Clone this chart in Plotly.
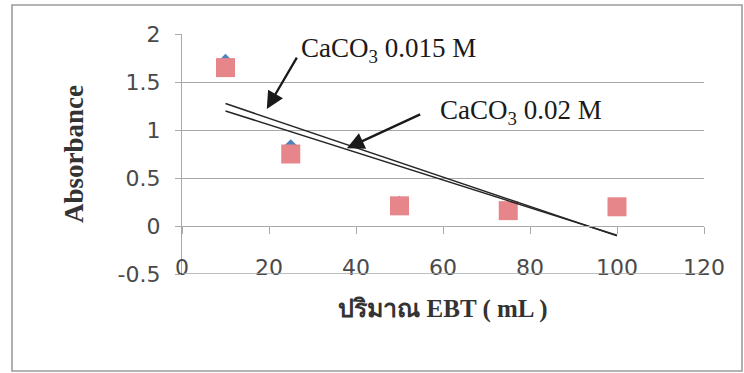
import numpy as np
import plotly.graph_objects as go

# EBT volume (mL) and measured absorbance for two CaCO3 concentrations
ebt_ml = [10, 25, 50, 75, 100]
abs_caco3_0015 = [1.72, 0.83, 0.24, 0.17, 0.20]
abs_caco3_002 = [1.65, 0.75, 0.21, 0.16, 0.20]

x_ticks = [0, 20, 40, 60, 80, 100, 120]
y_ticks = [-0.5, 0, 0.5, 1, 1.5, 2]
y_tick_text = ["-0.5", "0", "0.5", "1", "1.5", "2"]

label_0015 = "CaCO<sub>3</sub> 0.015 M"
label_002 = "CaCO<sub>3</sub> 0.02 M"
x_title = "ปริมาณ EBT ( mL )"
y_title = "Absorbance"

GRID = "#a9a9a9"
TICK_FONT = dict(family="DejaVu Sans", size=22, color="#4a4a4a")
SERIF = "Liberation Serif"

Y_RANGE = [-0.5, 2]


def linear_trend(x, y):
    """Least-squares straight line over the span of the data."""
    slope, intercept = np.polyfit(x, y, 1)
    xs = np.array([min(x), max(x)], dtype=float)
    return xs, slope * xs + intercept


fig = go.Figure()

fig.add_trace(go.Scatter(
    x=ebt_ml, y=abs_caco3_0015, mode="markers", name="0.015 M",
    marker=dict(symbol="diamond", size=11, color="#4F81BD"),
))
fig.add_trace(go.Scatter(
    x=ebt_ml, y=abs_caco3_002, mode="markers", name="0.02 M",
    marker=dict(symbol="square", size=19, color="#E6868A"),
))

# linear trendlines, drawn on the axis that sits at y = 0
for ys in (abs_caco3_0015, abs_caco3_002):
    tx, ty = linear_trend(ebt_ml, ys)
    fig.add_trace(go.Scatter(
        x=tx, y=ty, mode="lines", xaxis="x2", yaxis="y",
        line=dict(color="#262626", width=1.5), showlegend=False,
    ))

# arrows pointing from each label to its trendline
arrow = dict(text="", showarrow=True, axref="x", ayref="y",
             arrowhead=2, arrowsize=1.5, arrowwidth=2.3, arrowcolor="#1a1a1a")
fig.add_annotation(x=19.5, y=1.22, ax=26.6, ay=1.77, **arrow)
fig.add_annotation(x=37.9, y=0.81, ax=55.1, ay=1.17, **arrow)

label_font = dict(family=SERIF, size=27, color="#1a1a1a")
fig.add_annotation(x=26.9, y=1.83, text=label_0015, showarrow=False,
                   xanchor="left", yanchor="middle", font=label_font)
fig.add_annotation(x=58.9, y=1.19, text=label_002, showarrow=False,
                   xanchor="left", yanchor="middle", font=label_font)

# lowest horizontal gridline, across the full plot width
fig.add_shape(type="line", xref="x domain", yref="y",
              x0=0, x1=1, y0=y_ticks[0], y1=y_ticks[0],
              line=dict(color=GRID, width=1.3), layer="above")

# chart-area frame
fig.add_shape(type="rect", xref="paper", yref="paper",
              x0=-0.3257, x1=1.0728, y0=-0.404, y1=1.121,
              line=dict(color="#9c9c9c", width=1.6), fillcolor="rgba(0,0,0,0)",
              layer="below")

zero_pos = (0 - Y_RANGE[0]) / (Y_RANGE[1] - Y_RANGE[0])

fig.update_layout(
    width=744, height=373,
    margin=dict(l=182, r=40, t=34, b=99),
    paper_bgcolor="white", plot_bgcolor="white",
    showlegend=False,
    # tick labels for x sit just above the lowest gridline
    xaxis=dict(
        range=[0, 120], tickvals=x_ticks, showgrid=False, zeroline=False,
        showline=False, ticks="", anchor="free", position=0.09,
        tickfont=TICK_FONT,
        title=dict(text=x_title,
                   font=dict(family=SERIF, size=25, color="#333333", weight="bold"),
                   standoff=20),
        automargin=False,
    ),
    # axis line with tick marks crossing at y = 0
    xaxis2=dict(
        range=[0, 120], matches="x", overlaying="x", anchor="free", position=zero_pos,
        side="bottom", tickvals=x_ticks, showticklabels=False,
        showgrid=False, zeroline=False, showline=True, linecolor=GRID, linewidth=1.3,
        ticks="outside", ticklen=7, tickcolor=GRID, tickwidth=1.3,
    ),
    yaxis=dict(
        range=Y_RANGE, tickvals=y_ticks, ticktext=y_tick_text,
        showgrid=True, gridcolor=GRID, gridwidth=1.3, zeroline=False,
        showline=True, linecolor=GRID, linewidth=1.3,
        ticks="outside", ticklen=6, tickcolor=GRID, tickwidth=1.3,
        ticklabelstandoff=10, tickfont=TICK_FONT,
        title=dict(text=y_title,
                   font=dict(family=SERIF, size=27, color="#333333", weight="bold"),
                   standoff=26),
        automargin=False,
    ),
)

fig.write_html("out.html")
